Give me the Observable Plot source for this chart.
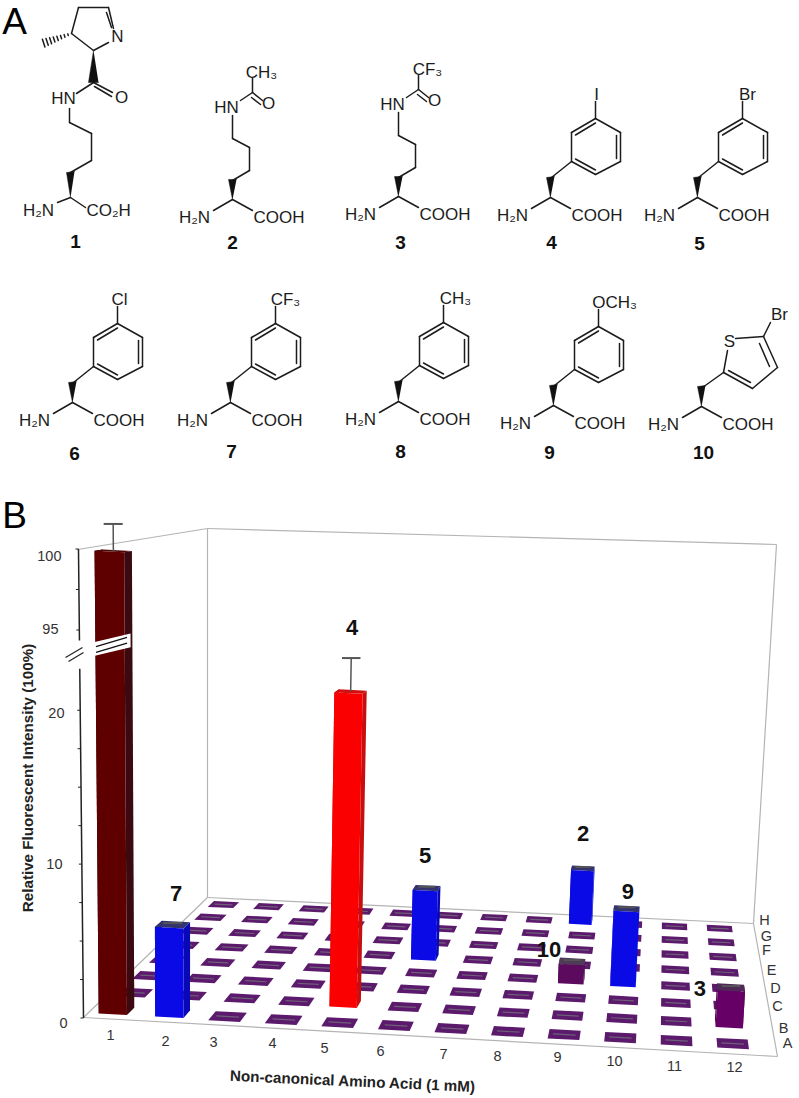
<!DOCTYPE html>
<html><head><meta charset="utf-8">
<script src="https://cdn.jsdelivr.net/npm/d3@7"></script>
<script src="https://cdn.jsdelivr.net/npm/@observablehq/plot@0.6"></script>
<style>html,body{margin:0;padding:0;background:#fff}svg{display:block}</style>
</head><body><div id="chart"></div>
<script>
// ---------- DATA ----------
const columns = [1,2,3,4,5,6,7,8,9,10,11,12];
const rowNames = ["A","B","C","D","E","F","G","H"];
// measured bars: compound, column, row, value, error
const barCompound = ["1","7","4","5","2","9","10","3"];
const barColumn   = [1,2,5,6,9,10,9,12];
const barRow      = ["A","A","B","E","H","D","D","B"];
const barValue    = [100,5.9,21.4,5.2,4.4,5.45,1.4,2.5];
const barError    = [1.7,0.1,2.3,0.1,0.1,0.1,0.1,0.1];
const yTicksMajor = [0,10,20,95,100];
const yTicksMinor = [2.5,5,7.5,12.5,15,17.5,97.5];
const compoundNames = ["1","2","3","4","5","6","7","8","9","10"];
const arylSubstituents = {4:"I",5:"Br",6:"Cl",7:"CF₃",8:"CH₃",9:"OCH₃"};
const xTitle = "Non-canonical Amino Acid (1 mM)";
const yTitle = "Relative Fluorescent Intensity (100%)";

// ---------- LAYOUT ----------
const floorQuad = [[83,1017],[777,1056],[753,923],[207,897]];
const frontRow={x0:115,dx:56.1,y0:1010,dy:3}, backRow={x0:223,dx:45.1,y0:904,dy:2.18};
const depth=r=>r*(1+7*.0316)/(7*(1+.0316*r));
const valueHeight = d3.scaleLinear().domain([0,24.5,94.3,95,100,105]).range([0,377,377.5,388,469,550]);
function project(col,row,px=0){
  const t=depth(row),k=col-1;
  const fx=frontRow.x0+frontRow.dx*k,fy=frontRow.y0+frontRow.dy*k;
  const bx=backRow.x0+backRow.dx*k,by=backRow.y0+backRow.dy*k;
  const x=fx+(bx-fx)*t,y=fy+(by-fy)*t;
  const s=.98-.19*t;
  const hp=px*s;
  return [x+hp*1.06e-4*(x-183),y-hp];
}
const rowIndex=r=>rowNames.indexOf(r);

// ---------- BUILD 3-D SHAPES ----------
const polys=[]; let pid=0;
function poly(pts,fill){pid++;pts.forEach(p=>polys.push({id:pid,x:p[0],y:p[1],fill}));}

const blueSet=["#0a0ae6","#0808b8","#33336e"];
const palette={ "1":["#5e0000","#3a0a10","#4a0808"],"7":blueSet,"4":["#fb0000","#c80f0f","#d01010"],
  "5":blueSet,"2":blueSet,"9":blueSet,"10":["#5c0a5e","#4a0a50","#4f3a58"],"3":["#660066","#4e0850","#4f2a58"] };
const barShift={"1":.02,"7":.02,"4":-.1,"5":-.08,"2":-.08,"9":-.03,"10":-.05,"3":-.03};
const barLookup=new Map(barCompound.map((c,i)=>[barColumn[i]+"|"+barRow[i],i]));
const du=.25,dv=.2,tu=.28,tv=.24;
const errStem=[],errCap=[];
for(let r=rowNames.length-1;r>=0;r--){
  for(const c of columns){
    const key=c+"|"+rowNames[r];
    if(barLookup.has(key)){
      const i=barLookup.get(key),cp=barCompound[i],[fc,sc,tc]=palette[cp];
      const h=valueHeight(barValue[i]),C=c+barShift[cp];
      const FL=project(C-du,r-dv),FR=project(C+du,r-dv),BR=project(C+du,r+dv),BL=project(C-du,r+dv);
      const FLt=project(C-du,r-dv,h),FRt=project(C+du,r-dv,h),BRt=project(C+du,r+dv,h),BLt=project(C-du,r+dv,h);
      poly([BL,FL,FLt,BLt],sc);
      poly([FR,BR,BRt,FRt],sc);
      poly([FLt,FRt,BRt,BLt],tc);
      poly([FL,FR,FRt,FLt],fc);
      const big=barError[i]>1,top=project(C,r,h),cap=project(C,r,valueHeight(barValue[i]+barError[i]));
      const half=(project(C+.17,r)[0]-project(C-.17,r)[0])/2;
      if(big)errStem.push({x1:top[0],y1:top[1],x2:cap[0],y2:cap[1]});
      errCap.push({x1:cap[0]-half,y1:cap[1],x2:cap[0]+half,y2:cap[1]});
    } else {
      const a=project(c-tu,r-tv),b=project(c+tu,r-tv),d=project(c+tu,r+tv),e=project(c-tu,r+tv);
      poly([a,b,d,e],"#5b1a6c");
      const l=project(c-tu*.72,r),m=project(c+tu*.72,r);
      poly([[l[0],l[1]-.6],[m[0],m[1]-.6],[m[0],m[1]+.6],[l[0],l[1]+.6]],"#6f5f78");
    }
  }
}
// axis break across the tallest bar: [column offset, height above floor]
const breakCut=[[-.33,361],[.37,373],[.37,387],[-.33,375]];
const breakPoly=breakCut.map(([dc,h])=>project(1+dc,-.2,h)).map(p=>({x:p[0],y:p[1]}));
const breakLines=[[[-.22,372],[.31,383]],[[-.22,366],[.31,377]]].map(([a,b])=>{
  const p=project(1+a[0],-.2,a[1]),q=project(1+b[0],-.2,b[1]);return {x1:p[0],y1:p[1],x2:q[0],y2:q[1]};});

// walls
const FLc=floorQuad[0],FRc=floorQuad[1],BRc=floorQuad[2],BLc=floorQuad[3];
const wallTopL=[77,549],wallTopB=[207,528],wallTopR=[776,544];
const wallSegs=[[FLc,FRc],[FRc,BRc],[BRc,BLc],[BLc,FLc],[BLc,wallTopB],[BRc,wallTopR],[wallTopL,wallTopB],[wallTopB,wallTopR]]
  .map(([a,b])=>({x1:a[0],y1:a[1],x2:b[0],y2:b[1]}));

// y axis
function axisPt(v){const h=valueHeight(v);return [83-h*0.0107,1017.5-h];}
const axisSegs=[[0,22.7],[94.3,100]].map(([a,b])=>{const p=axisPt(a),q=axisPt(b);return {x1:p[0],y1:p[1],x2:q[0],y2:q[1]};});
const axisSlash=[[[65,657],[82,647]],[[68,661],[83,652]]].map(([a,b])=>({x1:a[0],y1:a[1],x2:b[0],y2:b[1]}));
const tickSegs=[...yTicksMajor,...yTicksMinor].map(v=>{const p=axisPt(v);return {x1:p[0]-3,y1:p[1],x2:p[0],y2:p[1]};});
const yLabelPos={0:[67,1023],10:[62,864],20:[64,713],95:[58,629],100:[61,556]};
const yLabels=yTicksMajor.map(v=>({t:String(v),x:yLabelPos[v][0],y:yLabelPos[v][1]}));

// x labels & row labels
const xLabelPos=[[110,1035],[165,1041],[213,1042],[272,1043],[324,1048],[380,1051],[443,1054],[497,1056],[557,1057],[614,1061],[674,1066],[734,1067]];
const xLabels=columns.map((c,i)=>({t:String(c),x:xLabelPos[i][0],y:xLabelPos[i][1]}));
const rowLabelPos=[[787,1043],[783,1028],[777,1006],[775,988],[771,970],[766,950],[766,936],[764,920]];
const rowLabels=rowNames.map((t,i)=>({t,x:rowLabelPos[i][0],y:rowLabelPos[i][1]}));
// bold compound tags over bars
const tagNudge={"1":null,"7":[8,-34],"4":[-2,-65],"5":[-4,-35],"2":[-3,-37],"9":[0,-20],"10":[-25,-15],"3":[-33,-2]};
const barTags=barCompound.filter(c=>tagNudge[c]).map(c=>{
  const i=barCompound.indexOf(c),t=project(barColumn[i],rowIndex(barRow[i])-dv,valueHeight(barValue[i])),n=tagNudge[c];
  return {t:c,x:t[0]+n[0],y:t[1]+n[1]};
});

// ---------- CHEMICAL STRUCTURES (local coordinates around the alpha carbon) ----------
const alphaPos={1:[70,197],2:[232,199],3:[398,196],4:[550,197],5:[697,197],6:[72,402],7:[230,402],8:[398,401],9:[553,405],10:[701,406]};
const tagPos={1:[75,241],2:[232,242],3:[400,242],4:[551,242],5:[699,243],6:[74,453],7:[231,451],8:[400,451],9:[549,452],10:[703,452]};
const amineBonds=[[0,0,-19,11],[0,0,20,11]];
const ringBonds=[[1,-20,21,-36],[21,-36,21,-65],[21,-65,45,-79],[45,-79,70,-65],[70,-65,70,-36],[70,-36,45,-23],[45,-23,21,-36],
  [25,-62.5,45,-74.5],[66,-62,66,-39],[25,-38.5,45,-27.5],[45,-79,45,-96]];
const lysBonds=[[0,-19,17,-29],[17,-29,17,-52],[17,-52,0,-61],[0,-61,0,-84],[8,-99,20,-107],[20,-107,30,-99],[19,-102,28,-95],[20,-107,20,-121]];
const thioBonds=[[1,-19,22,-34],[22,-34,26,-56],[34,-68,62,-70],[62,-70,76,-39],[58,-63,68,-40],[76,-39,51,-18],[51,-18,22,-34],[49,-24,27,-36],[62,-70,69,-84]];
const pylBonds=[[-13,5,0,0],[0,0,15,10],[0,-25,21,-37],[21,-37,21,-64],[21,-64,-1,-75],[-1,-75,-1,-89],[6,-104,23,-115],[23,-115,42,-105],[24,-111,41,-101],
  [23,-147,38,-155],[43,-169,38,-190],[36,-185,41,-170],[38,-190,8,-190],[8,-190,1,-164],[1,-164,23,-147]];
const lysWedge=[[0,0],[-4,-20],[4,-20]];
const pheWedge=[[0,0],[-4,-20],[4,-21]];
const pylWedges=[[[0,0],[-4,-25],[4,-26]],[[23,-147],[18,-115],[28,-115]]];
const hashT=[.12,.24,.36,.48,.6,.72,.84,.96];
const mol=[],wedgeRows=[],molText=[];
let wid=0;
function addWedge(o,w){wid++;w.forEach(p=>wedgeRows.push({id:wid,x:o[0]+p[0],y:o[1]+p[1]}));}
function addBonds(o,b){b.forEach(s=>mol.push({x1:o[0]+s[0],y1:o[1]+s[1],x2:o[0]+s[2],y2:o[1]+s[3]}));}
function addText(o,t,dx,dy,anchor="middle"){molText.push({t,x:o[0]+dx,y:o[1]+dy,anchor});}
for(const n of compoundNames){
  const o=alphaPos[n],k=+n;
  if(k===1){
    addBonds(o,pylBonds);addWedge(o,pylWedges[0]);addWedge(o,pylWedges[1]);
    addText(o,"H₂N",-32,13);addText(o,"CO₂H",16,13,"start");addText(o,"HN",-7,-99);addText(o,"O",51,-100);addText(o,"N",47,-161);
    hashT.forEach(t=>{const x=1-29*t,y=-164+10*t,hw=.4+3.6*t;mol.push({x1:o[0]+x-hw*.33,y1:o[1]+y-hw,x2:o[0]+x+hw*.33,y2:o[1]+y+hw});});
  } else {
    addBonds(o,amineBonds);
    addText(o,"H₂N",-38,18);addText(o,"COOH",21,18,"start");
    if(k<=3){
      addWedge(o,lysWedge);addBonds(o,lysBonds);
      addText(o,"HN",-6,-92);addText(o,"O",36,-96);addText(o,k===2?"CH₃":"CF₃",29,-127);
    } else if(k===10){
      addWedge(o,pheWedge);addBonds(o,thioBonds);addText(o,"S",28,-65);addText(o,"Br",78,-92);
    } else {
      addWedge(o,pheWedge);addBonds(o,ringBonds);
      const sx={4:46,5:50,6:47,7:55,8:57,9:61}[k];
      addText(o,arylSubstituents[k],sx,-103);
    }
  }
}
const tags=compoundNames.map(n=>({t:n,x:tagPos[n][0],y:tagPos[n][1]}));
const panelLetters=[{t:"A",x:14,y:22},{t:"B",x:14,y:516}];

// ---------- PLOT ----------
const FONT="Liberation Sans, Arial, sans-serif";
const seg={x1:"x1",y1:"y1",x2:"x2",y2:"y2"};
const chart=Plot.plot({
  width:799,height:1098,margin:0,
  style:{background:"#fff",fontFamily:FONT},
  x:{domain:[0,799],range:[0,799],axis:null},
  y:{domain:[0,1098],range:[0,1098],axis:null},
  color:{type:"identity"},
  marks:[
    // structures
    Plot.link(mol,{...seg,stroke:"#1c1c1c",strokeWidth:1.5,strokeLinecap:"round"}),
    Plot.line(wedgeRows,{x:"x",y:"y",z:"id",fill:"#111",stroke:"#111",strokeWidth:.5}),
    Plot.text(molText.filter(d=>d.anchor==="middle"),{x:"x",y:"y",text:"t",fontSize:17,fill:"#1c1c1c",textAnchor:"middle"}),
    Plot.text(molText.filter(d=>d.anchor==="start"),{x:"x",y:"y",text:"t",fontSize:17,fill:"#1c1c1c",textAnchor:"start"}),
    Plot.text(tags,{x:"x",y:"y",text:"t",fontSize:19,fontWeight:"bold",fill:"#111"}),
    Plot.text(panelLetters,{x:"x",y:"y",text:"t",fontSize:37,fill:"#000"}),
    // walls
    Plot.link(wallSegs,{...seg,stroke:"#b4b4b4",strokeWidth:1.2}),
    // axis
    Plot.link(axisSegs,{...seg,stroke:"#222",strokeWidth:1.5}),
    Plot.link(tickSegs,{...seg,stroke:"#222",strokeWidth:1}),
    Plot.link(axisSlash,{...seg,stroke:"#222",strokeWidth:1.2}),
    Plot.text(yLabels,{x:"x",y:"y",text:"t",fontSize:14.5,fill:"#333",textAnchor:"end"}),
    // floor + bars, painted back to front
    Plot.line(polys,{x:"x",y:"y",z:"id",fill:"fill",stroke:"none"}),
    Plot.line(breakPoly,{x:"x",y:"y",fill:"#fff",stroke:"none"}),
    Plot.link(breakLines,{...seg,stroke:"#111",strokeWidth:1.3}),
    Plot.link(errStem,{...seg,stroke:"#555",strokeWidth:1.5}),
    Plot.link(errCap,{...seg,stroke:"#555",strokeWidth:2}),
    // labels
    Plot.text(barTags,{x:"x",y:"y",text:"t",fontSize:22,fontWeight:"bold",fill:"#111"}),
    Plot.text(xLabels,{x:"x",y:"y",text:"t",fontSize:14.5,fill:"#333"}),
    Plot.text(rowLabels,{x:"x",y:"y",text:"t",fontSize:14.5,fill:"#333"}),
    Plot.text([{t:xTitle,x:352,y:1081}],{x:"x",y:"y",text:"t",fontSize:15.2,fontWeight:"bold",fill:"#222",rotate:2.6}),
    Plot.text([{t:yTitle,x:28,y:777.5}],{x:"x",y:"y",text:"t",fontSize:15.2,fontWeight:"bold",fill:"#222",rotate:-90})
  ]
});
document.getElementById("chart").appendChild(chart);
</script></body></html>
